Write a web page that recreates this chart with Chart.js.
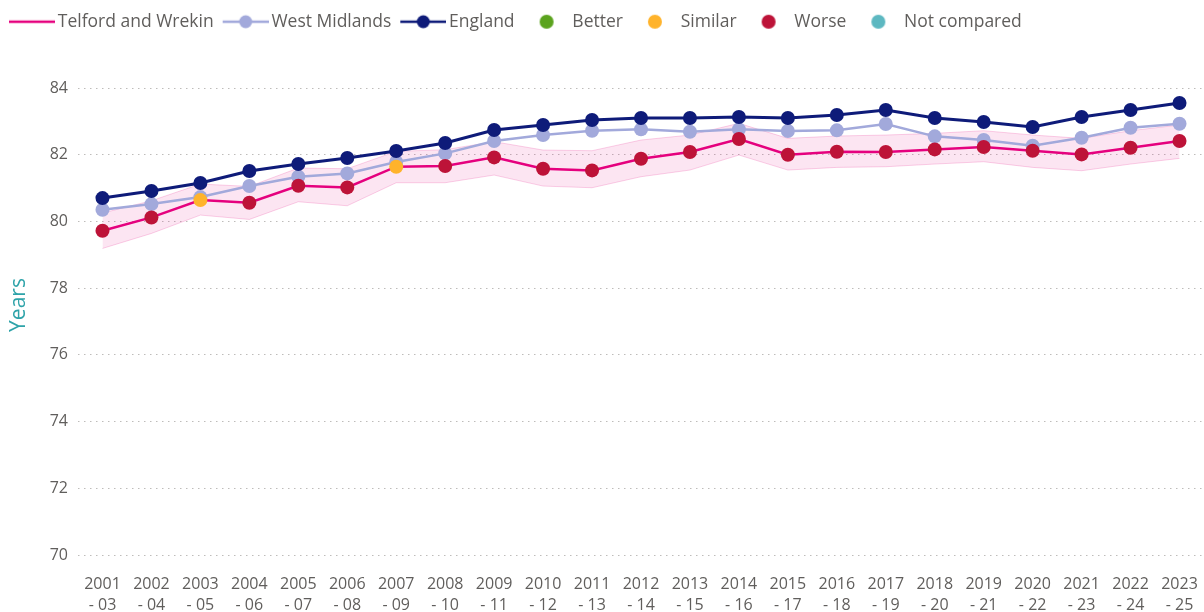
<!DOCTYPE html>
<html>
<head>
<meta charset="utf-8">
<script src="https://cdn.jsdelivr.net/npm/chart.js@4/dist/chart.umd.min.js"></script>
<style>
html,body{margin:0;padding:0;background:#ffffff;}
#wrap{width:1204px;height:612px;position:relative;}
</style>
</head>
<body>
<div id="wrap"><canvas id="c" width="1204" height="612"></canvas></div>
<script>
// ---- data ----
const startYears = ['2001','2002','2003','2004','2005','2006','2007','2008','2009','2010','2011','2012','2013','2014','2015','2016','2017','2018','2019','2020','2021','2022','2023'];
const endYears   = ['03','04','05','06','07','08','09','10','11','12','13','14','15','16','17','18','19','20','21','22','23','24','25'];

const telford      = [79.72,80.12,80.64,80.56,81.07,81.02,81.64,81.66,81.92,81.58,81.53,81.88,82.08,82.47,82.00,82.09,82.08,82.16,82.23,82.12,82.01,82.21,82.41];
const telfordLower = [79.19,79.64,80.19,80.06,80.59,80.47,81.16,81.16,81.39,81.06,81.01,81.34,81.54,81.99,81.54,81.62,81.64,81.72,81.79,81.62,81.52,81.72,81.89];
const telfordUpper = [80.25,80.62,81.12,81.05,81.60,81.58,82.10,82.15,82.39,82.14,82.12,82.44,82.59,82.94,82.49,82.56,82.59,82.64,82.72,82.59,82.49,82.72,82.89];
const westMidlands = [80.35,80.52,80.73,81.06,81.34,81.44,81.78,82.04,82.41,82.59,82.72,82.76,82.69,82.76,82.71,82.73,82.92,82.55,82.44,82.27,82.51,82.81,82.93];
const england      = [80.70,80.91,81.15,81.51,81.72,81.90,82.11,82.35,82.74,82.89,83.04,83.10,83.10,83.13,83.10,83.19,83.34,83.10,82.98,82.83,83.13,83.34,83.55];
const telfordSignificance = ['Worse','Worse','Similar','Worse','Worse','Worse','Similar','Worse','Worse','Worse','Worse','Worse','Worse','Worse','Worse','Worse','Worse','Worse','Worse','Worse','Worse','Worse','Worse'];
const yTicks = [70,72,74,76,78,80,82,84];

// ---- styles ----
const COL = {
  telford:'#E5007E', wm:'#A2A9DB', england:'#0E1B79',
  Better:'#5BA31E', Similar:'#FFB32B', Worse:'#BD1338', 'Not compared':'#5DB8C1',
  band:'rgba(229,0,126,0.10)', bandLine:'rgba(229,0,126,0.18)',
  text:'#605E5C', grid:'#BEBCBA', title:'#2EA3A9'
};
const FONT = "'Open Sans', 'Noto Sans', sans-serif";
const labels = startYears.map((s,i)=>[s, '- ' + endYears[i]]);

function lineIcon(color, dot){
  const c = document.createElement('canvas'); c.width = 52; c.height = 16;
  const x = c.getContext('2d');
  x.strokeStyle = color; x.lineWidth = 2.5;
  x.beginPath(); x.moveTo(6,8); x.lineTo(52,8); x.stroke();
  if(dot){ x.fillStyle = color; x.beginPath(); x.arc(29,8,6.5,0,Math.PI*2); x.fill(); }
  return c;
}
function dotIcon(color){
  const c = document.createElement('canvas'); c.width = 40; c.height = 16;
  const x = c.getContext('2d');
  x.fillStyle = color; x.beginPath(); x.arc(23,8,7,0,Math.PI*2); x.fill();
  return c;
}
const legendItems = [
  {text:'Telford and Wrekin', icon:lineIcon(COL.telford,false)},
  {text:'West Midlands', icon:lineIcon(COL.wm,true)},
  {text:'England', icon:lineIcon(COL.england,true)},
  {text:'Better', icon:dotIcon(COL.Better)},
  {text:'Similar', icon:dotIcon(COL.Similar)},
  {text:'Worse', icon:dotIcon(COL.Worse)},
  {text:'Not compared', icon:dotIcon(COL['Not compared'])}
];

const legendHeightPlugin = {
  id:'legendHeight',
  afterInit(chart){
    const lg = chart.legend; if(!lg) return;
    const fit = lg.fit.bind(lg);
    lg.fit = function(){ fit(); this.height = 84; };
  }
};
const yTitlePlugin = {
  id:'yTitle',
  afterDraw(chart){
    const ctx = chart.ctx; ctx.save();
    ctx.translate(19, 305); ctx.rotate(-Math.PI/2);
    ctx.font = '21px ' + FONT; ctx.fillStyle = COL.title;
    ctx.textAlign = 'center'; ctx.textBaseline = 'middle';
    ctx.fillText('Years', 0, 0); ctx.restore();
  }
};

const pointCols = telfordSignificance.map(s=>COL[s]);

new Chart(document.getElementById('c'), {
  type:'line',
  data:{
    labels: labels,
    datasets:[
      {label:'Telford and Wrekin', data:telford, borderColor:COL.telford, borderWidth:2.5,
       pointBackgroundColor:pointCols, pointBorderColor:pointCols, pointRadius:7, pointBorderWidth:0, order:0, tension:0, clip:false},
      {label:'England', data:england, borderColor:COL.england, borderWidth:3,
       pointBackgroundColor:COL.england, pointBorderColor:COL.england, pointRadius:7, pointBorderWidth:0, order:1, tension:0, clip:false},
      {label:'West Midlands', data:westMidlands, borderColor:COL.wm, borderWidth:2.5,
       pointBackgroundColor:COL.wm, pointBorderColor:COL.wm, pointRadius:7, pointBorderWidth:0, order:2, tension:0, clip:false},
      {label:'lower', data:telfordLower, borderColor:COL.bandLine, borderWidth:1, pointRadius:0, fill:false, order:3, tension:0},
      {label:'upper', data:telfordUpper, borderColor:COL.bandLine, borderWidth:1, pointRadius:0, fill:'-1', backgroundColor:COL.band, order:3, tension:0}
    ]
  },
  options:{
    responsive:false, animation:false, devicePixelRatio:1,
    layout:{autoPadding:false, padding:{left:0,right:-3,top:4,bottom:0}},
    plugins:{
      tooltip:{enabled:false},
      legend:{
        position:'top', align:'start',
        labels:{
          usePointStyle:true, pointStyleWidth:40, padding:9, color:COL.text,
          font:{family:FONT, size:17.5},
          generateLabels(){ return legendItems.map((it,i)=>({text:it.text, pointStyle:it.icon, fillStyle:'transparent', strokeStyle:'transparent', lineWidth:0, hidden:false, datasetIndex:i, fontColor:COL.text})); }
        },
        onClick(){}
      }
    },
    scales:{
      x:{
        offset:true,
        grid:{display:false, drawTicks:false},
        border:{display:false},
        ticks:{color:COL.text, font:{family:FONT, size:16, lineHeight:1.3}, padding:19, maxRotation:0, autoSkip:false},
        afterFit(s){ s.height = 57; s.paddingLeft = 0; s.paddingRight = 0; }
      },
      y:{
        min:70, max:84,
        afterBuildTicks(s){ s.ticks = yTicks.map(v=>({value:v})); },
        grid:{color:COL.grid, lineWidth:1, drawTicks:false},
        border:{display:false, dash:[1.5,4.5]},
        ticks:{color:COL.text, font:{family:FONT, size:16}, padding:10},
        afterFit(s){ s.width = 78; }
      }
    }
  },
  plugins:[legendHeightPlugin, yTitlePlugin]
});
</script>
</body>
</html>
